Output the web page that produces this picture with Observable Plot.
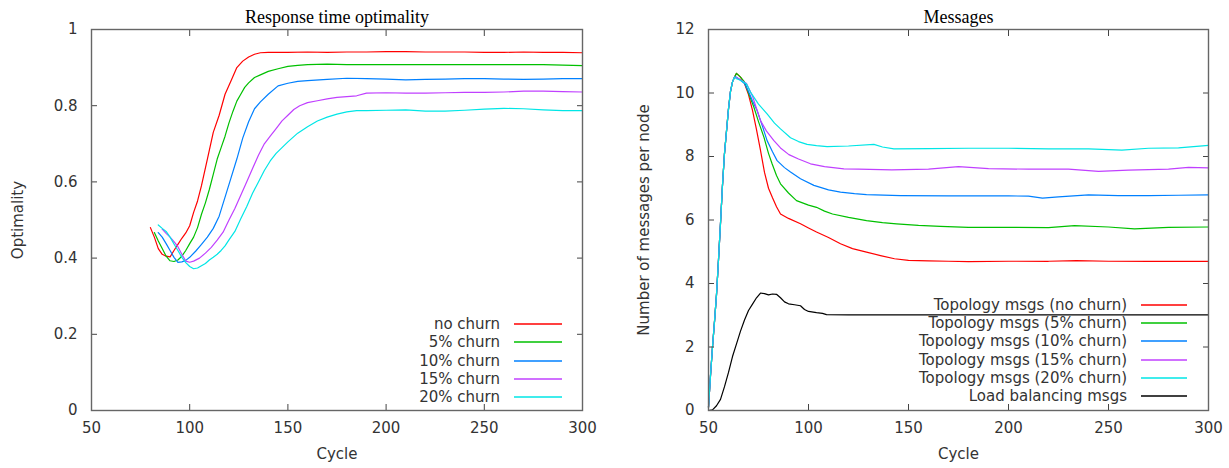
<!DOCTYPE html>
<html><head><meta charset="utf-8">
<script src="https://cdn.jsdelivr.net/npm/d3@7"></script>
<script src="https://cdn.jsdelivr.net/npm/@observablehq/plot@0.6"></script>
<style>
body{margin:0;background:#fff;}
#wrap{position:relative;width:1229px;height:468px;overflow:hidden;font-family:"DejaVu Sans",sans-serif;}
.chart{position:absolute;top:0;}
.legtext{position:absolute;font-size:15px;color:#333;white-space:nowrap;text-align:right;line-height:18px;height:18px;}
.legline{position:absolute;overflow:visible;}
</style></head><body><div id="wrap"></div>
<script>
// ---------- Left chart: Response time optimality ----------
const leftTitle = "Response time optimality";
const leftYLabel = "Optimality";
const xLabel = "Cycle";
const cycleTicks = [50, 100, 150, 200, 250, 300];
const optTicks = [0, 0.2, 0.4, 0.6, 0.8, 1];
const optNames = ["no churn", "5% churn", "10% churn", "15% churn", "20% churn"];
const optColors = ["#ff0000", "#00c000", "#0080ff", "#c040ff", "#00e6e6"];

const noChurnCycle = [80, 82, 84, 86, 88, 90, 92, 94, 96, 98, 100, 102, 104, 106, 109, 112, 115, 118, 121, 124, 127, 130, 133, 136, 140, 150, 160, 170, 180, 190, 200, 210, 220, 230, 240, 250, 260, 270, 280, 290, 300];
const noChurnOpt = [0.48, 0.455, 0.425, 0.41, 0.405, 0.403, 0.42, 0.436, 0.452, 0.466, 0.485, 0.52, 0.55, 0.59, 0.66, 0.73, 0.775, 0.83, 0.865, 0.9, 0.917, 0.928, 0.935, 0.939, 0.940, 0.940, 0.941, 0.940, 0.941, 0.941, 0.942, 0.942, 0.941, 0.941, 0.941, 0.940, 0.940, 0.941, 0.940, 0.940, 0.939];

const churn5Cycle = [82, 84, 86, 88, 90, 92, 94, 96, 98, 100, 102, 104, 106, 108, 110, 112, 114, 116, 118, 120, 122, 124, 126, 128, 130, 133, 136, 140, 145, 150, 155, 160, 170, 180, 190, 200, 220, 240, 260, 280, 300];
const churn5Opt = [0.467, 0.445, 0.425, 0.405, 0.393, 0.391, 0.395, 0.405, 0.42, 0.438, 0.455, 0.48, 0.515, 0.545, 0.58, 0.62, 0.66, 0.69, 0.72, 0.755, 0.785, 0.812, 0.83, 0.848, 0.86, 0.874, 0.881, 0.890, 0.897, 0.903, 0.906, 0.908, 0.909, 0.908, 0.908, 0.908, 0.908, 0.908, 0.908, 0.908, 0.905];

const churn10Cycle = [84, 86, 88, 90, 92, 94, 96, 98, 100, 103, 106, 109, 112, 115, 118, 121, 124, 127, 130, 133, 136, 140, 145, 150, 155, 160, 170, 180, 190, 200, 210, 220, 230, 240, 250, 260, 270, 280, 290, 300];
const churn10Opt = [0.467, 0.455, 0.438, 0.42, 0.402, 0.389, 0.39, 0.394, 0.402, 0.418, 0.436, 0.455, 0.478, 0.51, 0.56, 0.61, 0.66, 0.715, 0.758, 0.792, 0.81, 0.83, 0.852, 0.859, 0.864, 0.866, 0.869, 0.872, 0.871, 0.870, 0.868, 0.869, 0.870, 0.871, 0.871, 0.870, 0.869, 0.870, 0.871, 0.871];

const churn15Cycle = [86, 88, 90, 92, 94, 96, 98, 100, 102, 105, 108, 111, 114, 117, 120, 123, 126, 129, 132, 135, 138, 141, 144, 147, 150, 153, 156, 160, 165, 170, 175, 180, 185, 190, 200, 210, 220, 230, 240, 250, 260, 270, 280, 290, 300];
const churn15Opt = [0.476, 0.465, 0.455, 0.443, 0.43, 0.41, 0.392, 0.389, 0.392, 0.4, 0.413, 0.428, 0.447, 0.468, 0.5, 0.53, 0.565, 0.6, 0.635, 0.67, 0.7, 0.72, 0.74, 0.76, 0.775, 0.79, 0.8, 0.808, 0.813, 0.818, 0.822, 0.824, 0.826, 0.833, 0.834, 0.833, 0.833, 0.834, 0.835, 0.835, 0.836, 0.838, 0.838, 0.837, 0.836];

const churn20Cycle = [84, 86, 88, 90, 92, 94, 96, 98, 100, 102, 104, 106, 108, 110, 112, 114, 116, 118, 120, 123, 126, 129, 132, 135, 138, 141, 144, 147, 150, 155, 160, 165, 170, 175, 180, 185, 190, 200, 210, 220, 230, 240, 250, 260, 270, 280, 290, 300];
const churn20Opt = [0.487, 0.478, 0.47, 0.455, 0.437, 0.42, 0.402, 0.388, 0.378, 0.372, 0.374, 0.38, 0.386, 0.395, 0.402, 0.41, 0.42, 0.432, 0.448, 0.47, 0.503, 0.535, 0.57, 0.6, 0.63, 0.655, 0.675, 0.69, 0.705, 0.728, 0.745, 0.76, 0.77, 0.778, 0.784, 0.787, 0.787, 0.788, 0.789, 0.786, 0.786, 0.788, 0.791, 0.793, 0.792, 0.789, 0.787, 0.787];

// ---------- Right chart: Messages ----------
const rightTitle = "Messages";
const rightYLabel = "Number of messages per node";
const msgTicks = [0, 2, 4, 6, 8, 10, 12];
const msgNames = ["Topology msgs (no churn)", "Topology msgs (5% churn)", "Topology msgs (10% churn)", "Topology msgs (15% churn)", "Topology msgs (20% churn)", "Load balancing msgs"];
const msgColors = ["#ff0000", "#00c000", "#0080ff", "#c040ff", "#00e6e6", "#000000"];

const riseCycle = [50, 51, 52, 53, 54, 55, 56, 57, 58, 59, 60, 61, 62, 63];
const riseMsgs = [0.1, 1.1, 2.0, 2.8, 3.65, 4.75, 5.9, 7.1, 8.1, 8.8, 9.5, 10.05, 10.35, 10.5];

const topoNoChurnCycle = [64, 66, 68, 70, 72, 74, 76, 78, 80, 82, 84, 86, 90, 96, 100, 104, 110, 116, 122, 129, 136, 143, 150, 160, 170, 180, 200, 220, 234, 250, 270, 300];
const topoNoChurnMsgs = [10.62, 10.5, 10.3, 9.95, 9.45, 8.85, 8.19, 7.5, 7.0, 6.7, 6.42, 6.19, 6.05, 5.88, 5.75, 5.62, 5.45, 5.25, 5.1, 4.99, 4.88, 4.78, 4.73, 4.71, 4.70, 4.69, 4.70, 4.70, 4.72, 4.70, 4.70, 4.70];

const topo5Cycle = [64, 66, 68, 70, 72.7, 75, 77.7, 80, 81.8, 84, 86, 90, 94, 100, 104, 108, 112, 120, 129, 137, 144, 155, 166, 180, 200, 220, 233, 250, 263, 280, 300];
const topo5Msgs = [10.62, 10.5, 10.35, 10.0, 9.55, 9.1, 8.61, 8.1, 7.77, 7.4, 7.14, 6.85, 6.61, 6.47, 6.40, 6.28, 6.19, 6.08, 5.98, 5.92, 5.88, 5.83, 5.80, 5.77, 5.77, 5.76, 5.82, 5.78, 5.72, 5.77, 5.78];

const topo10Cycle = [64, 66, 68, 70, 72, 74.3, 77, 79.3, 82, 84.3, 88, 91, 96, 102.7, 110, 116, 123, 129, 146, 170, 200, 210, 217, 225, 240, 255, 270, 285, 300];
const topo10Msgs = [10.5, 10.4, 10.3, 10.05, 9.75, 9.45, 8.95, 8.5, 8.15, 7.87, 7.65, 7.51, 7.3, 7.09, 6.95, 6.88, 6.83, 6.80, 6.77, 6.76, 6.76, 6.75, 6.69, 6.73, 6.79, 6.77, 6.77, 6.78, 6.79];

const topo15Cycle = [64, 66, 69, 72, 76, 79, 82.7, 86, 90.2, 95, 101, 108, 117.7, 125, 141.7, 160, 175, 190, 210, 230, 245, 260, 280, 290, 300];
const topo15Msgs = [10.48, 10.42, 10.3, 9.9, 9.13, 8.8, 8.5, 8.27, 8.06, 7.92, 7.77, 7.68, 7.61, 7.6, 7.58, 7.6, 7.68, 7.62, 7.6, 7.6, 7.53, 7.57, 7.6, 7.66, 7.64];

const topo20Cycle = [64, 66, 69, 71, 75, 79.3, 83, 86, 91, 95, 99.3, 104, 109.3, 120, 132.7, 137, 142.7, 160, 180, 200, 220, 240, 256.7, 270, 285, 300];
const topo20Msgs = [10.45, 10.4, 10.28, 10.03, 9.65, 9.34, 9.05, 8.87, 8.59, 8.47, 8.38, 8.34, 8.31, 8.33, 8.38, 8.3, 8.24, 8.25, 8.26, 8.26, 8.24, 8.24, 8.2, 8.26, 8.27, 8.35];

const loadCycle = [50, 52, 54, 56, 58, 60, 62, 64, 66, 68, 70, 72, 74, 76, 78, 80, 82, 84, 86, 88, 90, 93, 96, 98, 100, 104, 107, 109, 120, 150, 200, 250, 300];
const loadMsgs = [0, 0.02, 0.15, 0.35, 0.75, 1.2, 1.7, 2.1, 2.5, 2.85, 3.15, 3.35, 3.55, 3.7, 3.68, 3.64, 3.67, 3.66, 3.55, 3.42, 3.36, 3.33, 3.3, 3.18, 3.12, 3.08, 3.06, 3.02, 3.01, 3.01, 3.01, 3.01, 3.01];

// ---------- Build tables ----------
function rows(name, xs, ys) { return xs.map((x, i) => ({series: name, cycle: x, value: ys[i]})); }
const optRows = [
  ...rows(optNames[0], noChurnCycle, noChurnOpt),
  ...rows(optNames[1], churn5Cycle, churn5Opt),
  ...rows(optNames[2], churn10Cycle, churn10Opt),
  ...rows(optNames[3], churn15Cycle, churn15Opt),
  ...rows(optNames[4], churn20Cycle, churn20Opt)
];
const msgRows = [
  ...rows(msgNames[0], [...riseCycle, ...topoNoChurnCycle], [...riseMsgs, ...topoNoChurnMsgs]),
  ...rows(msgNames[1], [...riseCycle, ...topo5Cycle], [...riseMsgs, ...topo5Msgs]),
  ...rows(msgNames[2], [...riseCycle, ...topo10Cycle], [...riseMsgs, ...topo10Msgs]),
  ...rows(msgNames[3], [...riseCycle, ...topo15Cycle], [...riseMsgs, ...topo15Msgs]),
  ...rows(msgNames[4], [...riseCycle, ...topo20Cycle], [...riseMsgs, ...topo20Msgs]),
  ...rows(msgNames[5], loadCycle, loadMsgs)
];

const fmt = d => String(d);

function frameAxes(xTicks, yTicks) {
  return [
    Plot.axisX({anchor: "bottom", ticks: xTicks, tickSize: -6, tickPadding: 18, tickFormat: fmt, label: null, stroke: "#444"}),
    Plot.axisX({anchor: "top", ticks: xTicks, tickSize: -6, tickFormat: () => "", label: null, stroke: "#444"}),
    Plot.axisY({anchor: "left", ticks: yTicks, tickSize: -6, tickPadding: 20, tickFormat: fmt, label: null, stroke: "#444"}),
    Plot.axisY({anchor: "right", ticks: yTicks, tickSize: -6, tickFormat: () => "", label: null, stroke: "#444"}),
    Plot.frame({stroke: "#666", strokeWidth: 1.4})
  ];
}

function makeChart({w, ml, mr, yDomain, yTicks, data, names, colors, title, ylabel, ylabelDx}) {
  return Plot.plot({
    width: w, height: 468,
    marginLeft: ml, marginRight: mr, marginTop: 29, marginBottom: 58,
    style: {fontFamily: "DejaVu Sans", fontSize: "15px", color: "#333", background: "transparent", overflow: "visible"},
    x: {domain: [50, 300]},
    y: {domain: yDomain},
    color: {domain: names, range: colors.slice()},
    marks: [
      Plot.line(data, {x: "cycle", y: "value", z: "series", stroke: "series", strokeWidth: 1.2}),
      ...frameAxes(cycleTicks, yTicks),
      Plot.text([title], {frameAnchor: "top", dy: -19, textAnchor: "middle", fontFamily: "Liberation Serif", fontSize: 18, fill: "#000"}),
      Plot.text([xLabel], {frameAnchor: "bottom", dy: 48, textAnchor: "middle", fontSize: 15, fill: "#333"}),
      Plot.text([ylabel], {frameAnchor: "left", dx: ylabelDx, rotate: -90, textAnchor: "middle", fontSize: 15, fill: "#333"})
    ]
  });
}

const wrap = document.getElementById("wrap");
const left = makeChart({w: 614, ml: 91, mr: 32, yDomain: [0, 1], yTicks: optTicks, data: optRows, names: optNames, colors: optColors, title: leftTitle, ylabel: leftYLabel, ylabelDx: -73});
left.classList.add("chart"); left.style.left = "0px";
wrap.appendChild(left);
const right = makeChart({w: 615, ml: 94, mr: 21, yDomain: [0, 12], yTicks: msgTicks, data: msgRows, names: msgNames, colors: msgColors, title: rightTitle, ylabel: rightYLabel, ylabelDx: -64});
right.classList.add("chart"); right.style.left = "614px";
wrap.appendChild(right);

// ---------- Legends ----------
const SVGNS = "http://www.w3.org/2000/svg";
function legend(names, colors, textRight, lineLeft, lineRight, firstY, step) {
  names.forEach((n, i) => {
    const cy = Math.round(firstY + i * step);
    const t = document.createElement("div");
    t.className = "legtext";
    t.textContent = n;
    t.style.right = (1229 - textRight) + "px";
    t.style.top = (cy - 9) + "px";
    wrap.appendChild(t);
    const s = document.createElementNS(SVGNS, "svg");
    s.setAttribute("class", "legline");
    s.setAttribute("width", lineRight - lineLeft);
    s.setAttribute("height", 4);
    s.style.left = lineLeft + "px";
    s.style.top = (cy - 2) + "px";
    const ln = document.createElementNS(SVGNS, "line");
    ln.setAttribute("x1", 0); ln.setAttribute("x2", lineRight - lineLeft);
    ln.setAttribute("y1", 2); ln.setAttribute("y2", 2);
    ln.setAttribute("stroke", colors[i]);
    ln.setAttribute("stroke-width", 1.4);
    s.appendChild(ln);
    wrap.appendChild(s);
  });
}
legend(optNames, optColors, 500, 514, 562, 324, 18.3);
legend(msgNames, msgColors, 1127, 1141, 1187, 305, 18.2);
</script></body></html>
